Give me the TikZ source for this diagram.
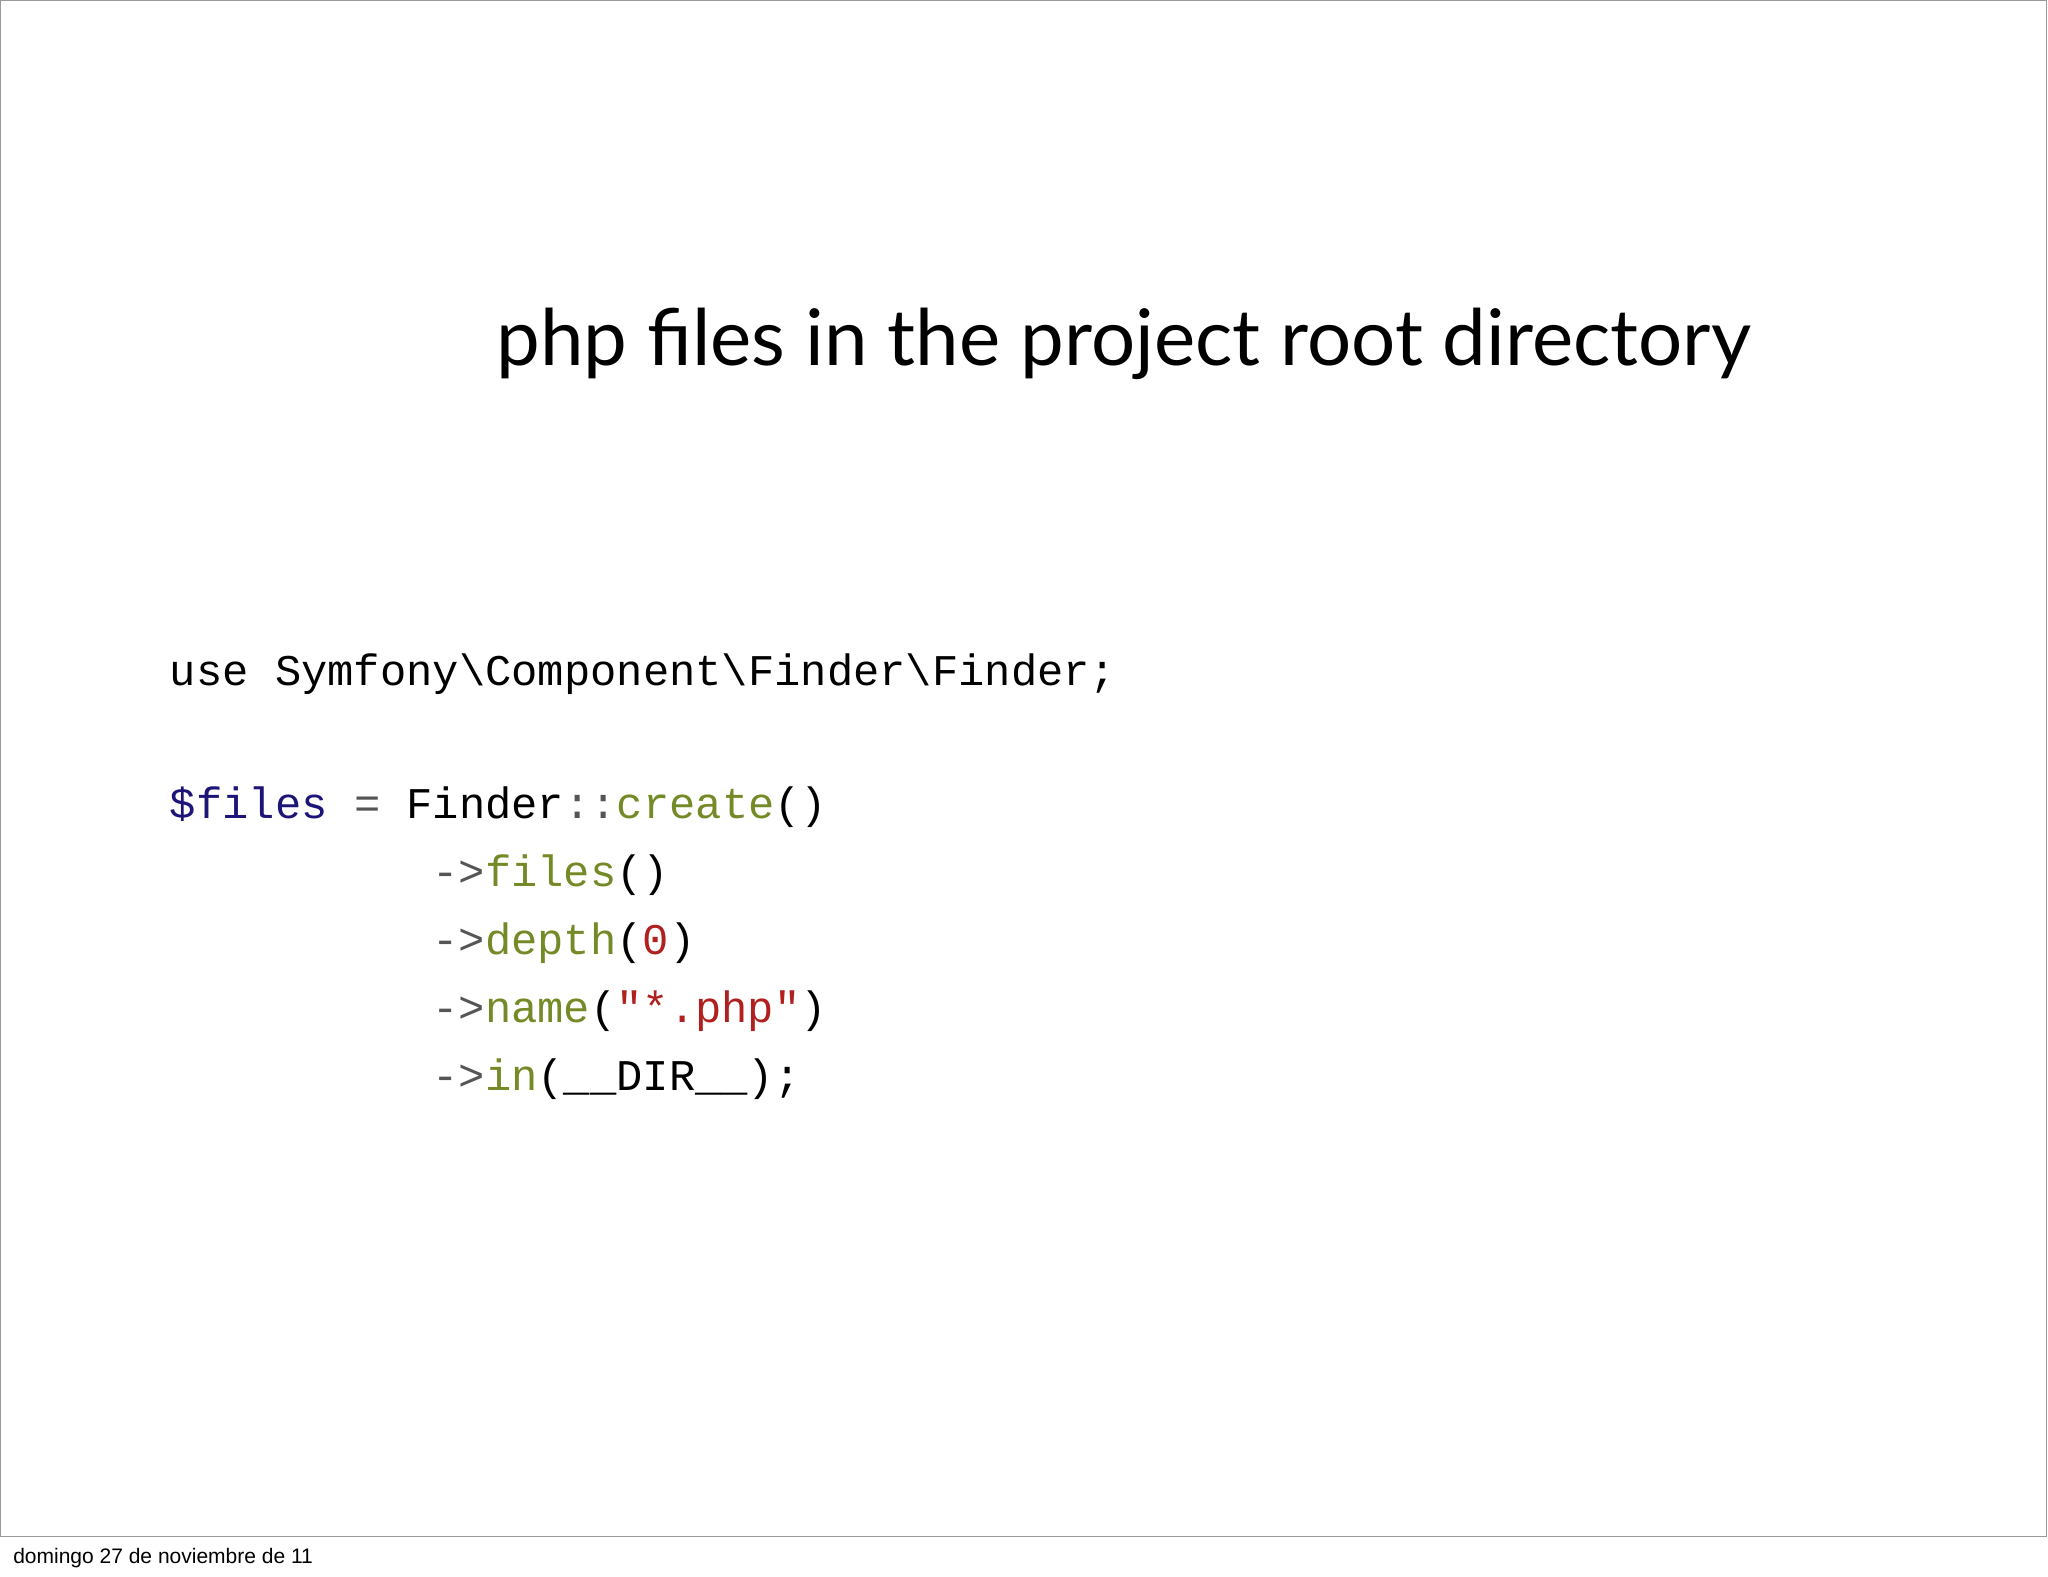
\documentclass[tikz,border=0pt]{standalone}
\usepackage{fontspec}
\setmainfont{Lato}
\newfontfamily\codefont{Liberation Mono}
\newfontfamily\footfont{Liberation Sans}
\definecolor{cvar}{HTML}{1C1577}
\definecolor{cfun}{HTML}{738A26}
\definecolor{cnum}{HTML}{B0201E}
\definecolor{cop}{HTML}{555555}
\tikzset{code/.style={anchor=base west,inner sep=0pt,font=\codefont\fontsize{43.8}{50}\selectfont}}
\begin{document}
\begin{tikzpicture}[x=1.306pt,y=-1.306pt]
\useasboundingbox (0,0) rectangle (1568,1207);
\draw[gray!80,line width=1pt] (0.5,0.5) rectangle (1567,1176);
\node[anchor=base west,inner sep=0pt,font=\fontsize{78}{90}\selectfont] (title) at (380,280) {php files in the project root directory};
\node[code] (l1) at (130,525) {use Symfony\textbackslash Component\textbackslash Finder\textbackslash Finder;};
\node[code] (l2) at (130,627) {\textcolor{cvar}{\$files} \textcolor{cop}{=} Finder\textcolor{cop}{::}\textcolor{cfun}{create}()};
\node[code] (l3) at (331,679) {\textcolor{cop}{->}\textcolor{cfun}{files}()};
\node[code] (l4) at (331,731) {\textcolor{cop}{->}\textcolor{cfun}{depth}(\textcolor{cnum}{0})};
\node[code] (l5) at (331,783) {\textcolor{cop}{->}\textcolor{cfun}{name}(\textcolor{cnum}{"*.php"})};
\node[code] (l6) at (331,835) {\textcolor{cop}{->}\textcolor{cfun}{in}(\_\_DIR\_\_);};
\node[anchor=base west,inner sep=0pt,font=\footfont\fontsize{21}{24}\selectfont] (foot) at (10,1197) {domingo 27 de noviembre de 11};
\end{tikzpicture}
\end{document}
